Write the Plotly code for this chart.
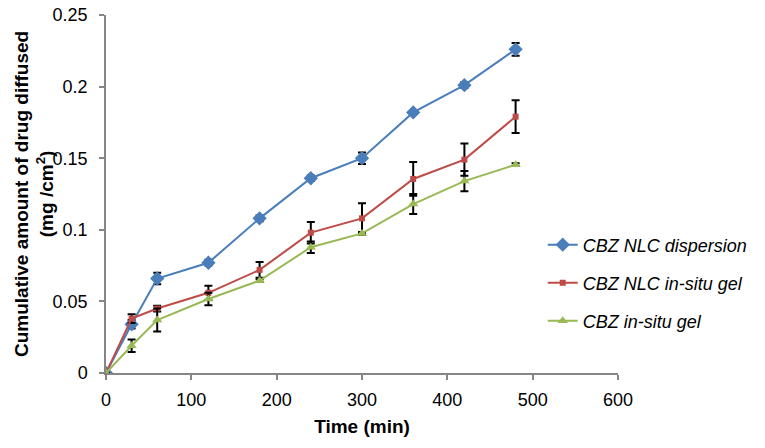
import plotly.graph_objects as go

time_min = [0, 30, 60, 120, 180, 240, 300, 360, 420, 480]

nlc_dispersion = [0, 0.034, 0.066, 0.077, 0.108, 0.136, 0.150, 0.182, 0.201, 0.226]
nlc_dispersion_err = [0, 0.003, 0.004, 0.002, 0.002, 0.002, 0.004, 0.001, 0.002, 0.0045]

nlc_gel = [0, 0.038, 0.045, 0.056, 0.072, 0.098, 0.108, 0.1355, 0.149, 0.179]
nlc_gel_err = [0, 0.003, 0.002, 0.005, 0.0055, 0.0075, 0.0105, 0.0118, 0.0112, 0.0114]

insitu_gel = [0, 0.019, 0.037, 0.0517, 0.0645, 0.0878, 0.0975, 0.118, 0.134, 0.1455]
insitu_gel_err = [0, 0.0044, 0.008, 0.0044, 0.001, 0.004, 0.001, 0.007, 0.007, 0.001]

series_names = ["CBZ NLC dispersion", "CBZ NLC in-situ gel", "CBZ in-situ gel"]
x_ticks = [0, 100, 200, 300, 400, 500, 600]
y_ticks = [0, 0.05, 0.1, 0.15, 0.2, 0.25]
y_tick_text = ["0", "0.05", "0.1", "0.15", "0.2", "0.25"]
x_title = "Time (min)"
y_title = "Cumulative amount of drug diffused<br>(mg /cm<sup>2</sup>)"

FONT = "Liberation Sans, Arial, sans-serif"

styles = [
    dict(color="#4A7EBB", symbol="diamond", size=11),
    dict(color="#BE4B48", symbol="square", size=6),
    dict(color="#98B954", symbol="triangle-up", size=9),
]
legend_ids = ["legend", "legend2", "legend3"]
legend_y = [0.3575, 0.2514, 0.1453]

fig = go.Figure()
for i, (vals, errs) in enumerate([(nlc_dispersion, nlc_dispersion_err),
                                   (nlc_gel, nlc_gel_err),
                                   (insitu_gel, insitu_gel_err)]):
    st = styles[i]
    fig.add_trace(go.Scatter(
        x=time_min, y=vals, name=series_names[i], mode="lines+markers",
        legend=legend_ids[i],
        line=dict(color=st["color"], width=2),
        marker=dict(color=st["color"], symbol=st["symbol"], size=st["size"]),
        error_y=dict(type="data", array=errs, visible=True, color="black",
                     thickness=2, width=4),
    ))

axis_font = dict(family=FONT, size=18, color="#000000")
legend_common = dict(x=0.853, xanchor="left", yanchor="middle",
                     font=dict(family=FONT, size=18, color="#000000", style="italic"),
                     bgcolor="rgba(0,0,0,0)", itemwidth=30)

fig.update_layout(
    width=765, height=448,
    margin=dict(l=106, r=143, t=15, b=75),
    paper_bgcolor="white", plot_bgcolor="white",
    font=dict(family=FONT, size=18, color="#000000"),
    showlegend=True,
    legend=dict(y=legend_y[0], **legend_common),
    legend2=dict(y=legend_y[1], **legend_common),
    legend3=dict(y=legend_y[2], **legend_common),
    xaxis=dict(range=[0, 600], tickvals=x_ticks, showgrid=False, zeroline=False,
               showline=True, linecolor="#868686", linewidth=1.5,
               ticks="outside", ticklen=5, tickcolor="#868686", tickwidth=1.5,
               tickfont=axis_font, automargin=False, ticklabelstandoff=5,
               title=dict(text=f"<b>{x_title}</b>", font=dict(size=19), standoff=10)),
    yaxis=dict(range=[0, 0.25], tickvals=y_ticks, ticktext=y_tick_text,
               showgrid=False, zeroline=False,
               showline=True, linecolor="#868686", linewidth=1.5,
               ticks="outside", ticklen=5, tickcolor="#868686", tickwidth=1.5,
               tickfont=axis_font, automargin=False, ticklabelstandoff=8),
    annotations=[dict(text=f"<b>{y_title}</b>", xref="paper", yref="paper",
                      x=0, y=0.5, xanchor="center", yanchor="middle",
                      xshift=-72, textangle=-90, showarrow=False,
                      font=dict(family=FONT, size=19, color="#000000"))],
)

fig.write_html("out.html", config={"displayModeBar": False},
               post_script="document.body.style.margin='0';")
